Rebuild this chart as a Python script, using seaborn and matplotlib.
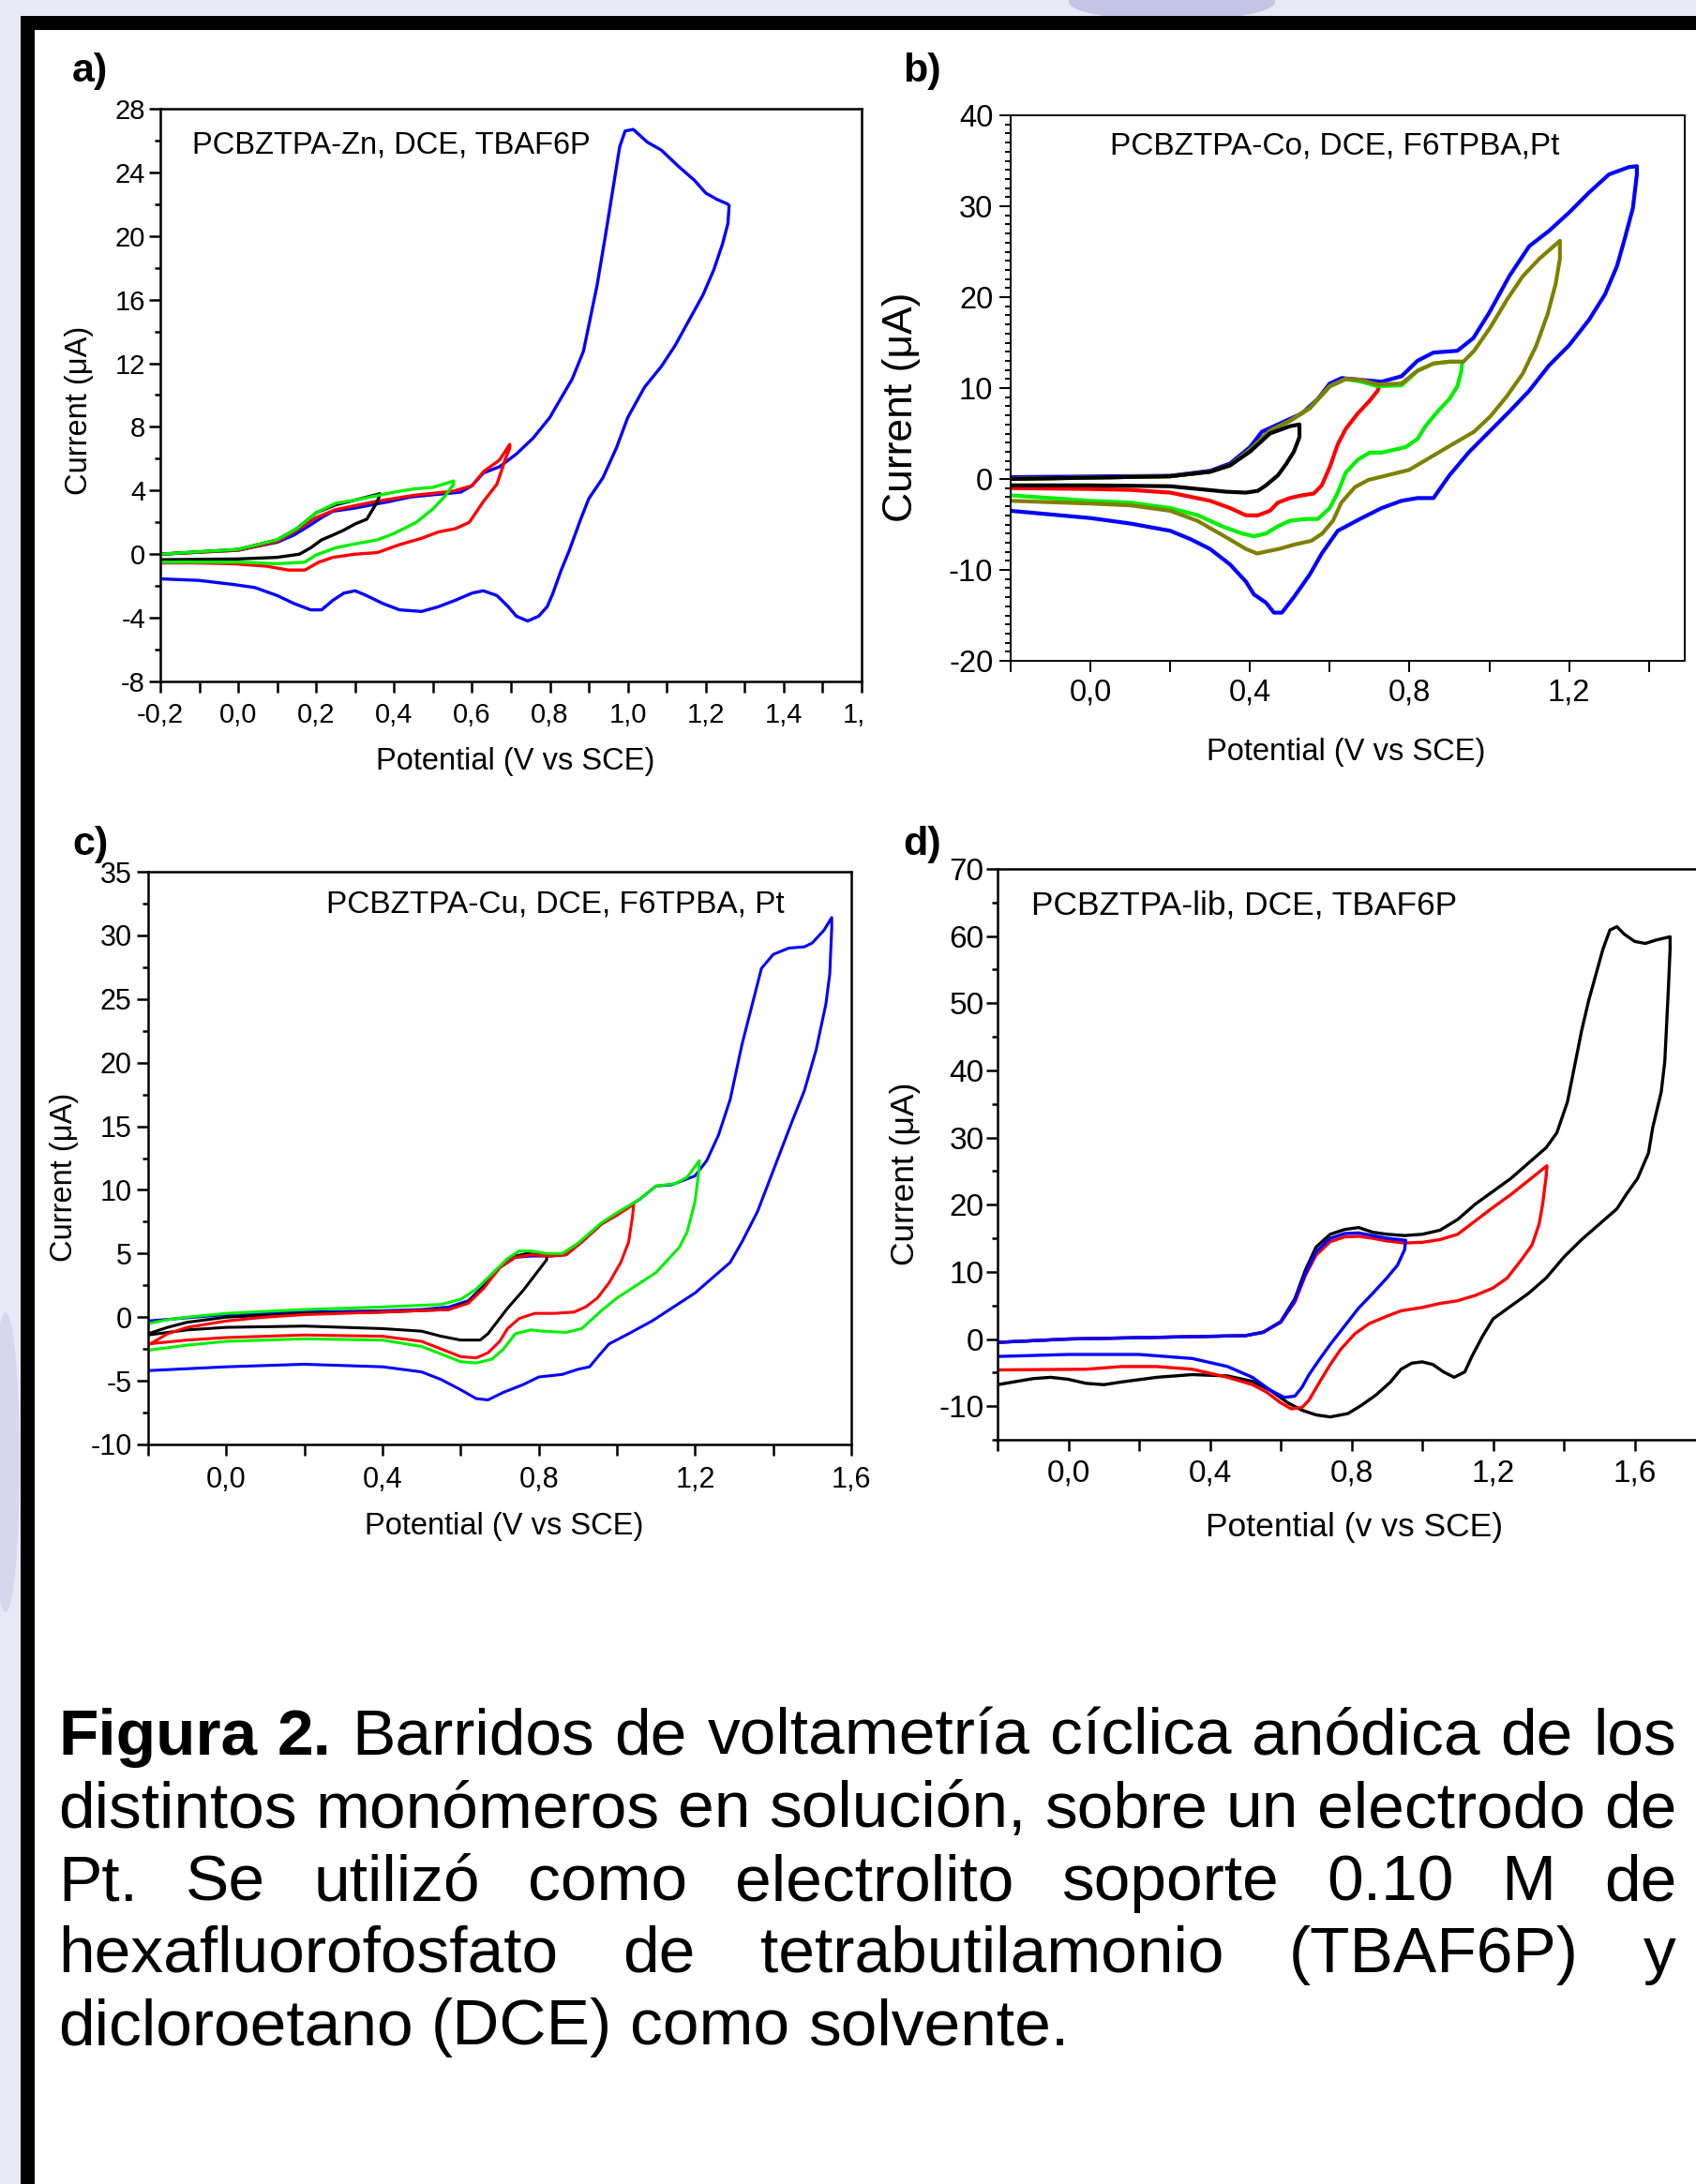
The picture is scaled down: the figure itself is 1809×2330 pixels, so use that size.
import numpy as np
import matplotlib
matplotlib.use("Agg")
import matplotlib.pyplot as plt
import seaborn as sns
from matplotlib.ticker import MultipleLocator, FuncFormatter
from matplotlib.patches import Rectangle, Ellipse

# ----------------------------------------------------------------- data
# Panel a) PCBZTPA-Zn
a_blue_E = [-0.2, 0.0, 0.1, 0.143, 0.186, 0.214, 0.243, 0.3, 0.386, 0.443, 0.529, 0.571, 0.6, 0.629, 0.671,
            0.714, 0.757, 0.8, 0.814, 0.857, 0.886, 0.9, 0.921, 0.943, 0.964, 0.979, 0.993, 1.014, 1.05, 1.086,
            1.129, 1.171, 1.2, 1.229, 1.257, 1.26,
            1.257, 1.243, 1.221, 1.193, 1.157, 1.121, 1.086, 1.043, 1.0, 0.971, 0.936, 0.9, 0.879, 0.85, 0.829,
            0.807, 0.793, 0.771, 0.743, 0.714, 0.693, 0.664, 0.629, 0.6, 0.557, 0.514, 0.471, 0.414, 0.371, 0.329,
            0.3, 0.271, 0.243, 0.214, 0.186, 0.143, 0.1, 0.043, -0.014, -0.1, -0.2]
a_blue_I = [0.0, 0.25, 0.75, 1.2, 1.85, 2.3, 2.7, 2.9, 3.3, 3.6, 3.8, 3.9, 4.3, 5.1, 5.5,
            6.3, 7.3, 8.6, 9.2, 11.0, 12.75, 14.4, 16.9, 20.1, 23.3, 25.6, 26.6, 26.7, 25.9, 25.4,
            24.4, 23.5, 22.7, 22.3, 22.0, 21.9,
            20.8, 19.5, 17.9, 16.3, 14.7, 13.1, 11.8, 10.5, 8.6, 6.7, 4.8, 3.5, 2.2, 0.25, -1.0,
            -2.5, -3.3, -3.9, -4.2, -3.9, -3.3, -2.6, -2.3, -2.45, -2.9, -3.3, -3.6, -3.5, -3.1, -2.6,
            -2.3, -2.45, -2.9, -3.5, -3.5, -3.1, -2.6, -2.1, -1.9, -1.65, -1.55]
a_red_E = [-0.2, 0.0, 0.1, 0.143, 0.2, 0.25, 0.35, 0.45, 0.55, 0.6, 0.63, 0.67, 0.697,
           0.697, 0.686, 0.664, 0.629, 0.593, 0.557, 0.514, 0.471, 0.414, 0.357, 0.3, 0.243, 0.207, 0.171,
           0.129, 0.071, -0.014, -0.114, -0.2]
a_red_I = [0.0, 0.25, 0.8, 1.4, 2.3, 2.8, 3.3, 3.7, 3.95, 4.3, 5.2, 5.9, 6.9,
           6.67, 6.0, 4.4, 3.3, 2.0, 1.6, 1.4, 1.0, 0.6, 0.1, 0.0, -0.2, -0.5, -1.0,
           -1.0, -0.75, -0.6, -0.55, -0.55]
a_black_E = [-0.2, 0.0, 0.1, 0.15, 0.2, 0.25, 0.3, 0.364,
             0.357, 0.33, 0.3, 0.27, 0.243, 0.214, 0.186, 0.157, 0.1, 0.0, -0.2]
a_black_I = [0.0, 0.3, 0.9, 1.6, 2.6, 3.1, 3.4, 3.8,
             3.3, 2.2, 1.9, 1.5, 1.2, 0.9, 0.4, 0.0, -0.2, -0.3, -0.35]
a_green_E = [-0.2, 0.0, 0.1, 0.15, 0.2, 0.25, 0.3, 0.4, 0.45, 0.5, 0.553,
             0.553, 0.529, 0.5, 0.457, 0.4, 0.357, 0.3, 0.25, 0.2, 0.171, 0.1, 0.0, -0.2]
a_green_I = [0.0, 0.3, 0.9, 1.6, 2.6, 3.2, 3.4, 3.9, 4.1, 4.2, 4.6,
             4.4, 3.6, 2.85, 2.0, 1.3, 0.9, 0.65, 0.4, -0.05, -0.5, -0.6, -0.5, -0.5]

# Panel b) PCBZTPA-Co
b_blue_E = [-0.2, 0.2, 0.3, 0.35, 0.4, 0.43, 0.47, 0.5, 0.53, 0.57, 0.6, 0.63, 0.68, 0.73, 0.78, 0.82, 0.86,
            0.92, 0.96, 1.0, 1.05, 1.1, 1.15, 1.2, 1.25, 1.3, 1.35, 1.37,
            1.37, 1.36, 1.34, 1.32, 1.29, 1.25, 1.2, 1.15, 1.1, 1.05, 1.0, 0.95, 0.9, 0.86, 0.82, 0.78, 0.73,
            0.68, 0.62, 0.58, 0.55, 0.51, 0.48, 0.46, 0.44, 0.41, 0.39, 0.35, 0.3, 0.25, 0.2, 0.1, 0.0, -0.1, -0.2]
b_blue_I = [0.2, 0.35, 0.9, 1.7, 3.5, 5.2, 6.0, 6.6, 7.2, 8.8, 10.5, 11.1, 10.9, 10.7, 11.3, 13.0, 13.9,
            14.1, 15.5, 18.3, 22.3, 25.6, 27.3, 29.3, 31.5, 33.5, 34.3, 34.4,
            33.5, 29.8, 26.5, 23.4, 20.3, 17.5, 14.7, 12.5, 9.7, 7.4, 5.2, 3.0, 0.4, -2.1, -2.1, -2.4, -3.2,
            -4.3, -5.7, -8.2, -10.5, -13.0, -14.7, -14.7, -13.6, -12.7, -11.3, -9.4, -7.7, -6.6, -5.7, -4.9,
            -4.3, -3.9, -3.5]
b_red_E = [-0.2, 0.2, 0.3, 0.35, 0.4, 0.45, 0.5, 0.55, 0.6, 0.64, 0.68, 0.724,
           0.72, 0.7, 0.67, 0.64, 0.62, 0.6, 0.58, 0.56, 0.53, 0.5, 0.47, 0.45, 0.42, 0.39, 0.35, 0.3, 0.2,
           0.1, 0.0, -0.2]
b_red_I = [0.0, 0.3, 0.8, 1.5, 3.2, 5.3, 6.4, 7.8, 10.2, 11.0, 10.8, 10.2,
           9.7, 8.6, 7.2, 5.5, 3.8, 1.3, -0.7, -1.6, -1.8, -2.1, -2.6, -3.5, -4.0, -4.0, -3.2, -2.4, -1.5,
           -1.2, -1.1, -1.0]
b_green_E = [-0.2, 0.2, 0.3, 0.35, 0.4, 0.45, 0.5, 0.55, 0.6, 0.64, 0.68, 0.72, 0.78, 0.82, 0.86, 0.9, 0.932,
             0.93, 0.92, 0.9, 0.87, 0.84, 0.82, 0.79, 0.76, 0.73, 0.7, 0.67, 0.64, 0.62, 0.6, 0.57, 0.54,
             0.5, 0.47, 0.44, 0.41, 0.38, 0.33, 0.27, 0.2, 0.1, 0.0, -0.2]
b_green_I = [0.0, 0.3, 0.8, 1.5, 3.2, 5.3, 6.4, 7.8, 10.2, 11.0, 10.7, 10.2, 10.3, 11.9, 12.7, 12.9, 12.9,
             11.9, 10.2, 8.8, 7.4, 5.8, 4.4, 3.5, 3.2, 2.9, 2.9, 2.1, 0.7, -1.5, -3.2, -4.4, -4.4,
             -4.6, -5.2, -6.0, -6.3, -6.0, -5.2, -4.0, -3.2, -2.6, -2.4, -1.8]
b_olive_E = [-0.2, 0.2, 0.3, 0.35, 0.4, 0.45, 0.5, 0.55, 0.6, 0.64, 0.68, 0.72, 0.78, 0.82, 0.86, 0.9, 0.935,
             0.962, 1.003, 1.044, 1.084, 1.125, 1.177,
             1.177, 1.166, 1.146, 1.118, 1.084, 1.044, 1.003, 0.962, 0.907, 0.853, 0.799, 0.744, 0.697, 0.663,
             0.629, 0.608, 0.581, 0.554, 0.513, 0.472, 0.438, 0.418, 0.39, 0.336, 0.268, 0.2, 0.1, 0.0, -0.2]
b_olive_I = [0.0, 0.3, 0.8, 1.5, 3.2, 5.3, 6.4, 7.8, 10.2, 11.0, 10.9, 10.4, 10.5, 11.9, 12.7, 12.9, 12.9,
             14.1, 16.7, 19.7, 22.3, 24.2, 26.2,
             24.2, 21.4, 18.1, 14.7, 11.6, 9.1, 6.9, 5.2, 3.8, 2.4, 1.0, 0.4, -0.1, -0.9,
             -2.6, -4.6, -6.0, -6.8, -7.2, -7.7, -8.0, -8.2, -7.7, -6.3, -4.6, -3.5, -2.9, -2.7, -2.4]
b_black_E = [-0.2, 0.2, 0.3, 0.35, 0.4, 0.45, 0.5, 0.524,
             0.524, 0.51, 0.49, 0.47, 0.44, 0.42, 0.39, 0.34, 0.27, 0.2, 0.0, -0.2]
b_black_I = [0.0, 0.3, 0.8, 1.5, 3.0, 5.0, 5.8, 6.0,
             4.6, 3.0, 1.6, 0.4, -0.7, -1.3, -1.5, -1.4, -1.1, -0.8, -0.7, -0.7]

# Panel c) PCBZTPA-Cu
c_blue_E = [-0.2, 0.0, 0.2, 0.4, 0.5, 0.57, 0.62, 0.66, 0.7, 0.74, 0.78, 0.83, 0.87, 0.91, 0.96, 1.0, 1.06,
            1.1, 1.14, 1.2, 1.23, 1.26, 1.29, 1.32, 1.35, 1.37, 1.4, 1.44, 1.48, 1.5, 1.53, 1.55,
            1.55, 1.545, 1.535, 1.51, 1.48, 1.45, 1.42, 1.39, 1.36, 1.32, 1.29, 1.26, 1.2, 1.14, 1.09, 1.03,
            0.98, 0.96, 0.93, 0.9, 0.86, 0.8, 0.76, 0.71, 0.67, 0.64, 0.6, 0.55, 0.5, 0.4, 0.2, 0.0, -0.2]
c_blue_I = [-0.3, 0.2, 0.4, 0.5, 0.6, 0.8, 1.3, 2.5, 3.9, 4.7, 4.8, 4.8, 4.9, 5.9, 7.3, 8.1, 9.3,
            10.3, 10.4, 11.1, 12.3, 14.3, 17.1, 21.4, 25.0, 27.4, 28.5, 29.0, 29.1, 29.4, 30.4, 31.4,
            30.6, 27.0, 24.6, 21.0, 17.8, 15.5, 13.1, 10.7, 8.3, 5.9, 4.3, 3.5, 1.9, 0.7, -0.3, -1.3,
            -2.1, -2.8, -3.9, -4.1, -4.5, -4.7, -5.3, -5.9, -6.5, -6.4, -5.7, -4.9, -4.3, -3.9, -3.7, -3.9, -4.2]
c_black_E = [-0.2, -0.15, -0.1, 0.0, 0.2, 0.4, 0.57, 0.62, 0.66, 0.7, 0.74, 0.77, 0.8, 0.821,
             0.82, 0.8, 0.76, 0.72, 0.69, 0.67, 0.65, 0.6, 0.55, 0.5, 0.4, 0.2, 0.0, -0.1, -0.2]
c_black_I = [-1.3, -0.8, -0.4, 0.0, 0.3, 0.4, 0.6, 1.2, 2.4, 3.9, 4.8, 5.0, 4.9, 4.96,
             4.5, 3.7, 2.1, 0.7, -0.5, -1.3, -1.8, -1.8, -1.5, -1.1, -0.9, -0.7, -0.8, -1.0, -1.4]
c_red_E = [-0.2, -0.15, -0.1, 0.0, 0.1, 0.2, 0.4, 0.57, 0.62, 0.66, 0.7, 0.74, 0.78, 0.83, 0.87, 0.91, 0.96,
           1.0, 1.043,
           1.04, 1.03, 1.01, 0.98, 0.95, 0.92, 0.89, 0.84, 0.79, 0.75, 0.72, 0.7, 0.67, 0.64, 0.6, 0.55, 0.5,
           0.4, 0.2, 0.0, -0.1, -0.2]
c_red_I = [-2.2, -1.3, -0.8, -0.3, 0.0, 0.2, 0.4, 0.6, 1.1, 2.3, 3.9, 4.7, 4.9, 4.8, 4.9, 5.9, 7.3,
           8.0, 8.87,
           7.9, 5.9, 4.3, 2.7, 1.5, 0.8, 0.4, 0.3, 0.3, -0.1, -0.9, -1.9, -2.8, -3.2, -3.1, -2.5, -1.9,
           -1.5, -1.4, -1.6, -1.8, -2.1]
c_green_E = [-0.2, -0.15, -0.1, 0.0, 0.2, 0.4, 0.55, 0.6, 0.64, 0.68, 0.72, 0.75, 0.78, 0.82, 0.86, 0.9, 0.96,
             1.0, 1.06, 1.1, 1.15, 1.18, 1.211,
             1.21, 1.2, 1.18, 1.16, 1.13, 1.1, 1.06, 1.0, 0.96, 0.91, 0.87, 0.81, 0.78, 0.74, 0.71, 0.68,
             0.64, 0.6, 0.55, 0.5, 0.4, 0.2, 0.0, -0.1, -0.2]
c_green_I = [-0.5, -0.2, 0.0, 0.3, 0.6, 0.8, 1.0, 1.4, 2.2, 3.4, 4.6, 5.2, 5.2, 5.0, 5.0, 5.8, 7.4,
             8.2, 9.3, 10.3, 10.5, 11.0, 12.3,
             11.5, 9.1, 6.7, 5.5, 4.5, 3.5, 2.7, 1.5, 0.5, -0.9, -1.2, -1.1, -1.0, -1.3, -2.5, -3.3,
             -3.6, -3.5, -2.9, -2.3, -1.8, -1.7, -1.9, -2.2, -2.6]

# Panel d) PCBZTPA-lib
d_black_E = [-0.2, 0.0, 0.2, 0.4, 0.5, 0.55, 0.6, 0.64, 0.67, 0.7, 0.74, 0.78, 0.82, 0.86, 0.9, 0.95, 1.0,
             1.05, 1.1, 1.15, 1.2, 1.25, 1.3, 1.35, 1.38, 1.41, 1.43, 1.45, 1.47, 1.49, 1.51, 1.53, 1.55,
             1.57, 1.6, 1.63, 1.66, 1.7,
             1.70, 1.695, 1.69, 1.685, 1.675, 1.651, 1.639, 1.608, 1.577, 1.55, 1.5, 1.45, 1.4, 1.35, 1.3,
             1.25, 1.2, 1.17, 1.14, 1.12, 1.09, 1.06, 1.03, 1.0, 0.97, 0.94, 0.91, 0.87, 0.83, 0.79, 0.74,
             0.7, 0.66, 0.62, 0.57, 0.52, 0.45, 0.35, 0.25, 0.15, 0.1, 0.05, 0.0, -0.05, -0.1, -0.2]
d_black_I = [-0.5, 0.0, 0.2, 0.4, 0.5, 1.0, 2.6, 6.0, 10.3, 13.7, 15.6, 16.3, 16.6, 15.9, 15.6, 15.4, 15.6,
             16.2, 17.8, 20.1, 22.0, 23.9, 26.2, 28.5, 30.7, 35.3, 40.6, 45.9, 50.4, 54.2, 58.0, 60.9, 61.4,
             60.3, 59.2, 58.9, 59.4, 59.9,
             58.0, 52.0, 46.6, 41.3, 36.8, 31.5, 27.7, 23.9, 21.6, 19.4, 17.1, 14.8, 12.2, 9.1, 6.8,
             4.9, 3.0, 0.4, -2.6, -4.9, -5.7, -4.9, -3.8, -3.4, -3.6, -4.5, -6.4, -8.3, -9.8, -11.1, -11.6,
             -11.3, -10.6, -9.5, -7.6, -6.3, -5.5, -5.3, -5.7, -6.4, -6.8, -6.6, -6.0, -5.7, -5.9, -6.8]
d_red_E = [-0.2, 0.0, 0.2, 0.4, 0.5, 0.55, 0.6, 0.64, 0.67, 0.7, 0.74, 0.78, 0.82, 0.86, 0.9, 0.95, 1.0,
           1.05, 1.1, 1.15, 1.2, 1.25, 1.3, 1.352,
           1.35, 1.34, 1.33, 1.31, 1.28, 1.24, 1.2, 1.15, 1.1, 1.05, 1.0, 0.94, 0.9, 0.85, 0.81, 0.77, 0.74,
           0.71, 0.68, 0.66, 0.63, 0.6, 0.56, 0.52, 0.45, 0.35, 0.25, 0.15, 0.05, -0.2]
d_red_I = [-0.5, 0.0, 0.2, 0.4, 0.5, 1.0, 2.5, 5.5, 9.5, 12.5, 14.5, 15.2, 15.3, 15.0, 14.6, 14.3, 14.4,
           14.8, 15.6, 17.6, 19.6, 21.5, 23.6, 25.8,
           24.3, 20.1, 17.1, 14.0, 11.8, 9.1, 7.6, 6.5, 5.7, 5.3, 4.7, 4.2, 3.4, 2.3, 0.8, -1.5, -3.8,
           -6.4, -9.1, -10.2, -10.4, -9.5, -7.9, -6.8, -5.7, -4.5, -4.1, -4.1, -4.5, -4.6]
d_blue_E = [-0.2, 0.0, 0.2, 0.4, 0.5, 0.55, 0.6, 0.64, 0.67, 0.7, 0.74, 0.78, 0.82, 0.86, 0.9, 0.953,
            0.95, 0.93, 0.9, 0.86, 0.82, 0.78, 0.74, 0.71, 0.68, 0.66, 0.64, 0.61, 0.57, 0.52, 0.45, 0.35,
            0.2, 0.0, -0.2]
d_blue_I = [-0.5, 0.0, 0.2, 0.4, 0.5, 1.0, 2.5, 5.8, 9.8, 13.0, 15.0, 15.7, 15.8, 15.4, 15.0, 14.7,
            13.3, 11.0, 9.1, 6.8, 4.6, 1.9, -0.8, -3.0, -5.3, -7.2, -8.5, -8.7, -7.6, -5.7, -4.1, -2.9,
            -2.3, -2.3, -2.6]

titles = ["PCBZTPA-Zn, DCE, TBAF6P", "PCBZTPA-Co, DCE, F6TPBA,Pt",
          "PCBZTPA-Cu, DCE, F6TPBA, Pt", "PCBZTPA-lib, DCE, TBAF6P"]
panel_tags = ["a)", "b)", "c)", "d)"]
xlabels = ["Potential (V vs SCE)", "Potential (V vs SCE)",
           "Potential (V vs SCE)", "Potential (v vs SCE)"]
ylabel = "Current (\u03bcA)"
caption_lines = [
    "Figura 2. Barridos de voltametría cíclica anódica de los",
    "distintos monómeros en solución, sobre un electrodo de",
    "Pt. Se utilizó como electrolito soporte 0.10 M de",
    "hexafluorofosfato de tetrabutilamonio (TBAF6P) y",
    "dicloroetano (DCE) como solvente.",
]

# ----------------------------------------------------------------- figure
sns.set_theme(style="white")
plt.rcParams["font.family"] = ["Liberation Sans", "DejaVu Sans"]
plt.rcParams["axes.unicode_minus"] = False

W, H, DPI = 1809, 2330, 100
fig = plt.figure(figsize=(W / DPI, H / DPI), dpi=DPI)
fig.patch.set_facecolor("#e8e8f6")

def fx(x):
    return x / W

def fy(y):
    return 1 - y / H

# background decorations + black frame + white page
fig.add_artist(Ellipse((fx(1250), fy(2)), 220 / W, 40 / H, transform=fig.transFigure,
                       facecolor="#c4c4e4", edgecolor="none", zorder=-12))
fig.add_artist(Ellipse((fx(6), fy(1560)), 30 / W, 320 / H, transform=fig.transFigure,
                       facecolor="#d6d6ee", edgecolor="none", zorder=-12))
fig.add_artist(Rectangle((fx(22), -0.01), (W + 20 - 22) / W, (H - 17) / H + 0.01,
                         transform=fig.transFigure, facecolor="black", edgecolor="none", zorder=-11))
fig.add_artist(Rectangle((fx(37), -0.01), (W + 20 - 37) / W, (H - 32) / H + 0.01,
                         transform=fig.transFigure, facecolor="white", edgecolor="none", zorder=-10))


def comma_fmt(v, pos):
    if abs(v) < 1e-9:
        v = 0.0
    return f"{v:.1f}".replace(".", ",")


def int_fmt(v, pos):
    if abs(v) < 1e-9:
        v = 0
    return f"{v:.0f}"


def make_axes(l, t, r, b, xlim, ylim, xmaj, xmin, ymaj, ymin, tick_fs,
              xpad, ypad, spine_lw=1.8, zorder=0):
    ax = fig.add_axes([fx(l), fy(b), (r - l) / W, (b - t) / H])
    ax.set_zorder(zorder)
    ax.set_facecolor("white")
    ax.set_xlim(*xlim)
    ax.set_ylim(*ylim)
    ax.xaxis.set_major_locator(MultipleLocator(xmaj))
    ax.xaxis.set_minor_locator(MultipleLocator(xmin))
    ax.yaxis.set_major_locator(MultipleLocator(ymaj))
    ax.yaxis.set_minor_locator(MultipleLocator(ymin))
    ax.xaxis.set_major_formatter(FuncFormatter(comma_fmt))
    ax.yaxis.set_major_formatter(FuncFormatter(int_fmt))
    for s in ax.spines.values():
        s.set_color("black")
        s.set_linewidth(spine_lw)
        s.set_visible(True)
    ax.tick_params(which="both", direction="out", bottom=True, left=True, top=False, right=False,
                   color="black", width=spine_lw, labelcolor="black")
    ax.tick_params(axis="x", which="major", length=8.5, pad=xpad, labelsize=tick_fs)
    ax.tick_params(axis="x", which="minor", length=8.5)
    ax.tick_params(axis="y", which="major", length=8.5, pad=ypad, labelsize=tick_fs)
    ax.tick_params(axis="y", which="minor", length=4.5)
    ax.set_xlabel("")
    ax.set_ylabel("")
    return ax


def draw(ax, E, I, color, lw):
    sns.lineplot(x=np.array(E), y=np.array(I), sort=False, estimator=None, ax=ax,
                 color=color, linewidth=lw)
    ax.set_xlabel("")
    ax.set_ylabel("")


BLUE, RED, GREEN, BLACK, OLIVE = "#0000ff", "#ff0000", "#00f000", "#000000", "#808000"

# ---- panel a
ax_a = make_axes(171, 116, 919, 727, (-0.2, 1.6), (-8, 28), 0.2, 0.1, 4, 2, 21, 7, 3, zorder=0)
draw(ax_a, a_blue_E, a_blue_I, BLUE, 2.4)
draw(ax_a, a_red_E, a_red_I, RED, 2.4)
draw(ax_a, a_black_E, a_black_I, BLACK, 2.4)
draw(ax_a, a_green_E, a_green_I, GREEN, 2.4)

# white cover that clips the last x tick label of panel a (as in the original collage)
fig.add_artist(Rectangle((fx(922), fy(800)), (W - 922) / W, 65 / H, transform=fig.transFigure,
                         facecolor="white", edgecolor="none", zorder=0.5))

# ---- panel b
ax_b = make_axes(1078, 123, 1797, 705, (-0.2, 1.49), (-20, 40), 0.4, 0.2, 10, 1, 23.5, 5, 5,
                 spine_lw=1.4, zorder=1)
draw(ax_b, b_blue_E, b_blue_I, BLUE, 3.0)
draw(ax_b, b_red_E, b_red_I, RED, 3.0)
draw(ax_b, b_green_E, b_green_I, GREEN, 3.0)
draw(ax_b, b_olive_E, b_olive_I, OLIVE, 3.0)
draw(ax_b, b_black_E, b_black_I, BLACK, 3.0)

# ---- panel c
ax_c = make_axes(158, 930, 908, 1541, (-0.2, 1.6), (-10, 35), 0.4, 0.2, 5, 2.5, 22, 8, 4, zorder=1)
draw(ax_c, c_blue_E, c_blue_I, BLUE, 2.2)
draw(ax_c, c_black_E, c_black_I, BLACK, 2.2)
draw(ax_c, c_red_E, c_red_I, RED, 2.2)
draw(ax_c, c_green_E, c_green_I, GREEN, 2.2)

# ---- panel d
ax_d = make_axes(1064, 927, 1838, 1536, (-0.2, 1.85), (-15, 70), 0.4, 0.2, 10, 5, 24, 6, 2, zorder=1)
draw(ax_d, d_black_E, d_black_I, BLACK, 2.4)
draw(ax_d, d_red_E, d_red_I, RED, 2.4)
draw(ax_d, d_blue_E, d_blue_I, BLUE, 2.4)

# ----------------------------------------------------------------- texts
def ftext(x, y, s, **kw):
    return fig.text(fx(x), fy(y), s, color="black", **kw)

# panel tags
ftext(77, 76, panel_tags[0], fontsize=31, fontweight="bold", ha="left", va="center")
ftext(963, 76, panel_tags[1], fontsize=31, fontweight="bold", ha="left", va="center")
ftext(77, 901, panel_tags[2], fontsize=31, fontweight="bold", ha="left", va="center")
ftext(963, 901, panel_tags[3], fontsize=31, fontweight="bold", ha="left", va="center")

# titles inside axes
ftext(205, 155, titles[0], fontsize=23.5, ha="left", va="center")
ftext(1424, 156, titles[1], fontsize=24, ha="center", va="center")
ftext(592, 965, titles[2], fontsize=24, ha="center", va="center")
ftext(1100, 966, titles[3], fontsize=25.5, ha="left", va="center")

# axis labels
ftext(85, 438, ylabel, fontsize=23.5, rotation=90, ha="center", va="center")
ftext(550, 812, xlabels[0], fontsize=23.5, ha="center", va="center")
ftext(962, 434, ylabel, fontsize=32, rotation=90, ha="center", va="center")
ftext(1436, 803, xlabels[1], fontsize=23.5, ha="center", va="center")
ftext(69, 1256, ylabel, fontsize=23.5, rotation=90, ha="center", va="center")
ftext(538, 1629, xlabels[2], fontsize=23.5, ha="center", va="center")
ftext(965, 1252, ylabel, fontsize=25.5, rotation=90, ha="center", va="center")
ftext(1445, 1629, xlabels[3], fontsize=25.5, ha="center", va="center")

# caption (justified)
CAP_L, CAP_R, CAP_FS = 62, 1788, 50
baselines = [1872, 1949, 2027, 2104, 2181]
fig.canvas.draw()
renderer = fig.canvas.get_renderer()
space_px = 0.278 * CAP_FS * DPI / 72
for i, line in enumerate(caption_lines):
    words = line.split(" ")
    items = []
    for j, w in enumerate(words):
        bold = (i == 0 and j < 2)
        t = ftext(CAP_L, baselines[i], w, fontsize=CAP_FS, ha="left", va="baseline",
                  fontweight="bold" if bold else "normal")
        items.append(t)
    widths = [t.get_window_extent(renderer).width for t in items]
    if i < len(caption_lines) - 1 and len(words) > 1:
        gap = (CAP_R - CAP_L - sum(widths)) / (len(words) - 1)
    else:
        gap = space_px
    x = CAP_L
    for t, wd in zip(items, widths):
        t.set_x(fx(x))
        x += wd + gap

fig.savefig("out.png", dpi=DPI)
